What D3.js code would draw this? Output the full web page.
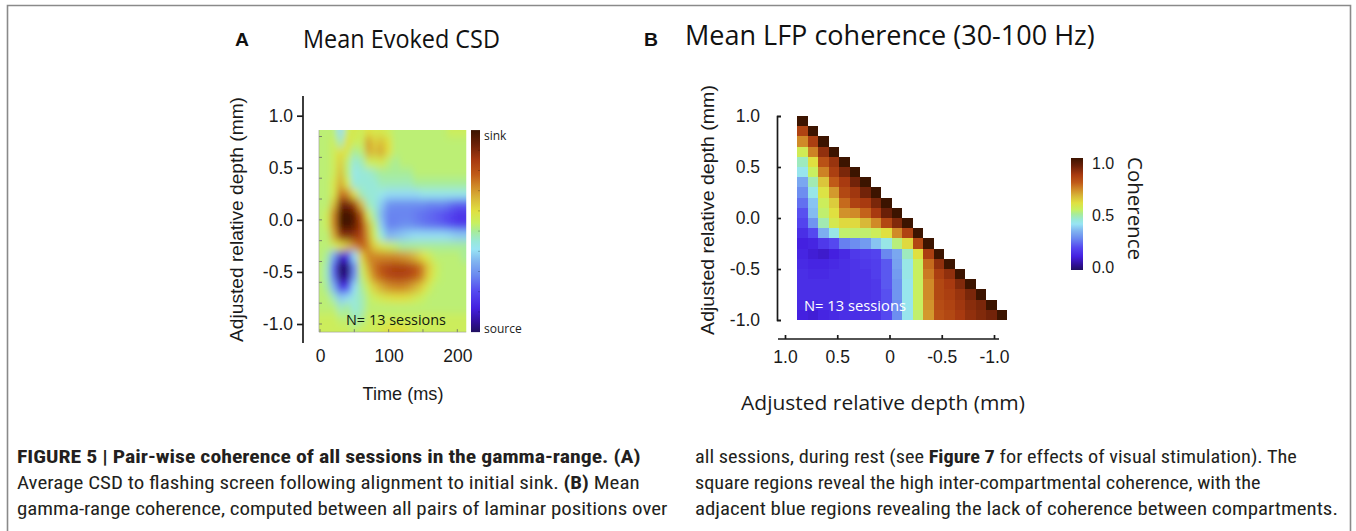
<!DOCTYPE html>
<html><head><meta charset="utf-8">
<script src="https://cdn.jsdelivr.net/npm/d3@7"></script>
<style>body{margin:0;background:#fff}svg{display:block}</style>
</head><body>
<svg id="fig" width="1356" height="531"></svg>
<script>
// ---------------- DATA ----------------
// Panel A: mean evoked CSD (sink > 0, source < 0), rows = depth (mm), cols = time (ms)
const csdTimes = [0,10,20,30,40,50,60,70,80,90,100,110,120,130,140,150,160,170,180,190,200,210];
const csdDepths = [0.85,0.75,0.65,0.55,0.45,0.35,0.25,0.15,0.05,-0.05,-0.15,-0.25,-0.35,-0.45,-0.55,-0.65,-0.75,-0.85,-0.95,-1.05];
const csdValues = [
 [0.05,0.05,0.05,-0.2,0.1,0.15,0.1,0.2,0.15,0.15,0.1,0.05,0.05,0.05,0.05,0.05,0.05,0.05,0.05,0.1,0.1,0.1],
 [0.05,0.05,0.1,-0.05,0.2,0.1,0.1,0.4,0.25,0.3,0.2,0.05,0.05,0.05,0.05,0.05,0.05,0.05,0.05,0.05,0.05,0.05],
 [0.05,0.05,0.1,0.2,0.15,0.0,0.05,0.35,0.3,0.35,0.2,0.05,0.05,0.05,0.05,0.05,0.05,0.05,0.05,0.05,0.05,0.05],
 [0.05,0.05,0.1,0.25,0.05,-0.1,-0.05,0.1,0.1,0.15,0.05,0.0,0.05,0.05,0.05,0.05,0.05,0.05,0.05,0.05,0.05,0.05],
 [0.05,0.05,0.1,0.3,0.05,-0.15,-0.1,-0.1,-0.05,0.0,0.0,0.0,0.0,0.0,0.05,0.05,0.05,0.05,0.05,0.05,0.05,0.05],
 [0.05,0.05,0.15,0.35,0.15,-0.1,-0.1,-0.1,-0.1,-0.05,-0.05,-0.05,-0.05,-0.05,0.0,0.0,0.0,0.0,0.0,0.0,0.0,0.0],
 [0.05,0.05,0.15,0.5,0.45,0.2,-0.05,-0.1,-0.1,-0.15,-0.2,-0.2,-0.2,-0.2,-0.2,-0.15,-0.15,-0.15,-0.15,-0.15,-0.15,-0.15],
 [0.05,0.05,0.3,0.8,0.85,0.7,0.3,-0.05,-0.1,-0.25,-0.4,-0.42,-0.42,-0.42,-0.42,-0.42,-0.45,-0.45,-0.45,-0.5,-0.55,-0.55],
 [0.05,0.1,0.45,0.95,1.0,0.9,0.6,0.15,-0.05,-0.3,-0.45,-0.45,-0.45,-0.45,-0.48,-0.5,-0.52,-0.55,-0.58,-0.62,-0.68,-0.68],
 [0.05,0.1,0.45,0.95,1.0,0.9,0.7,0.35,0.05,-0.25,-0.45,-0.45,-0.42,-0.42,-0.45,-0.48,-0.5,-0.52,-0.55,-0.6,-0.65,-0.65],
 [0.05,0.05,0.35,0.75,0.8,0.75,0.65,0.4,0.1,-0.1,-0.3,-0.28,-0.25,-0.22,-0.2,-0.2,-0.2,-0.2,-0.2,-0.22,-0.25,-0.25],
 [0.05,0.05,0.1,0.2,0.3,0.45,0.55,0.45,0.25,0.15,0.1,0.05,0.0,0.0,0.0,0.0,0.0,0.0,0.0,0.0,0.0,0.0],
 [0.05,0.0,-0.35,-0.8,-0.7,-0.2,0.25,0.45,0.45,0.45,0.45,0.45,0.42,0.38,0.3,0.2,0.12,0.05,0.05,0.05,0.05,0.0],
 [0.05,-0.05,-0.55,-1.0,-0.95,-0.45,0.1,0.35,0.5,0.6,0.65,0.68,0.68,0.65,0.58,0.45,0.25,0.1,0.05,0.05,0.05,0.05],
 [0.05,-0.05,-0.5,-0.95,-0.9,-0.4,0.05,0.25,0.45,0.55,0.62,0.65,0.65,0.62,0.55,0.42,0.22,0.08,0.05,0.05,0.05,0.05],
 [0.05,0.0,-0.3,-0.7,-0.6,-0.2,0.0,0.1,0.25,0.35,0.42,0.45,0.45,0.4,0.32,0.22,0.1,0.05,0.05,0.05,0.05,0.05],
 [0.05,0.05,-0.05,-0.25,-0.2,-0.1,-0.05,0.05,0.1,0.15,0.18,0.2,0.2,0.18,0.12,0.08,0.05,0.05,0.05,0.05,0.05,0.05],
 [0.05,0.05,0.05,-0.05,0.0,-0.1,-0.05,0.05,0.05,0.05,0.05,0.05,0.05,0.05,0.05,0.05,0.05,0.05,0.05,0.05,0.05,0.05],
 [0.1,0.1,0.1,0.05,0.05,-0.05,0.0,0.1,0.1,0.1,0.1,0.1,0.1,0.1,0.1,0.1,0.1,0.1,0.1,0.1,0.1,0.1],
 [0.1,0.1,0.1,0.1,0.1,0.05,0.1,0.1,0.1,0.15,0.2,0.2,0.2,0.15,0.1,0.1,0.1,0.1,0.1,0.1,0.1,0.1]
];
const csdYTicks = [1.0,0.5,0.0,-0.5,-1.0];
const csdXTicks = [0,100,200];
const csdInnerDepthTicks = [0.8,0.6,0.4,0.2,0.0,-0.2,-0.4,-0.6,-0.8,-1.0];
const csdInnerTimeTicks = [0,50,100,150,200];
const csdBarLabels = ["sink","source"];

// Panel B: mean gamma coherence, lower triangle, rows top->bottom, cols left->right
const cohChannels = d3.range(20);
const cohValues = [
 [1],
 [0.83,1],
 [0.72,0.84,1],
 [0.56,0.73,0.88,1],
 [0.47,0.6,0.8,0.87,1],
 [0.42,0.54,0.73,0.84,0.91,1],
 [0.33,0.48,0.64,0.78,0.85,0.92,1],
 [0.29,0.43,0.59,0.7,0.82,0.86,0.92,1],
 [0.25,0.37,0.55,0.63,0.76,0.83,0.85,0.91,1],
 [0.21,0.36,0.53,0.6,0.71,0.72,0.77,0.85,0.93,1],
 [0.19,0.3,0.48,0.57,0.61,0.61,0.66,0.72,0.82,0.9,1],
 [0.15,0.2,0.34,0.43,0.53,0.53,0.53,0.55,0.6,0.72,0.83,1],
 [0.12,0.13,0.17,0.2,0.27,0.29,0.31,0.37,0.43,0.52,0.61,0.82,1],
 [0.13,0.11,0.1,0.12,0.14,0.17,0.18,0.19,0.28,0.33,0.47,0.6,0.84,1],
 [0.14,0.13,0.13,0.14,0.15,0.16,0.17,0.18,0.22,0.32,0.43,0.54,0.76,0.88,1],
 [0.15,0.14,0.14,0.15,0.15,0.16,0.16,0.18,0.22,0.31,0.43,0.54,0.74,0.84,0.88,1],
 [0.15,0.15,0.15,0.15,0.15,0.16,0.16,0.17,0.22,0.3,0.42,0.54,0.72,0.82,0.85,0.9,1],
 [0.15,0.15,0.15,0.15,0.15,0.16,0.16,0.17,0.21,0.3,0.42,0.54,0.72,0.82,0.84,0.87,0.91,1],
 [0.14,0.14,0.15,0.15,0.15,0.16,0.16,0.16,0.21,0.29,0.42,0.54,0.71,0.81,0.83,0.86,0.89,0.91,1],
 [0.12,0.11,0.13,0.14,0.15,0.15,0.16,0.16,0.2,0.29,0.42,0.53,0.7,0.8,0.82,0.85,0.88,0.9,0.92,1]
];
const cohYTicks = [1.0,0.5,0.0,-0.5,-1.0];
const cohXTicks = [1.0,0.5,0.0,-0.5,-1.0];
const cohXTickLabels = ["1.0","0.5","0","-0.5","-1.0"];
const cohBarTicks = [1.0,0.5,0.0];

// ---------------- STYLE ----------------
const cmapStops = [0,0.05,0.12,0.2,0.28,0.35,0.41,0.45,0.5,0.54,0.6,0.66,0.72,0.78,0.85,0.93,1];
const cmapColors = ['#201060','#30109a','#4420e0','#5548f0','#6a88f0','#80b4f0','#98e4f4','#98e8d8','#a8ec98','#c8f060','#e0e040','#d8b838','#d08a28','#c05a18','#a83a10','#6a2008','#3c1400'];
const cmap = d3.scaleLinear().domain(cmapStops).range(cmapColors).interpolate(d3.interpolateRgb).clamp(true);
const HELV = "'Liberation Sans', Arial, Helvetica, sans-serif";
const CAL = "'Open Sans', 'Noto Sans', sans-serif";
const COND = "'Liberation Sans Narrow', 'Roboto Condensed', Roboto, 'Liberation Sans', sans-serif";

const svg = d3.select('#fig');
const defs = svg.append('defs');

function label(g, o){
  const t = g.append('text')
    .attr('font-family', o.family || HELV)
    .attr('font-size', o.size)
    .attr('font-weight', o.weight || 'normal')
    .attr('fill', o.fill || '#111')
    .attr('text-anchor', o.anchor || 'start');
  const parts = Array.isArray(o.text) ? o.text : [[o.text, false]];
  parts.forEach(([s,b]) => { const ts = t.append('tspan').text(s); if (b) ts.attr('font-weight','bold'); });
  let tr = `translate(${o.x},${o.y})` + (o.rot ? ` rotate(${o.rot})` : '');
  if (o.width) { const L = t.node().getComputedTextLength(); if (L > 0) tr += ` scale(${o.width / L},1)`; }
  t.attr('transform', tr);
  return t;
}

// frame
svg.append('path').attr('d','M7.5,531 V5.5 H1350.5 V531').attr('fill','none')
  .attr('stroke','#8a8a8a').attr('stroke-width',1.6);

// ================= PANEL A =================
const gA = svg.append('g');
const xA = d3.scaleLinear().domain([0,200]).range([320,457.3]);
const yA = d3.scaleLinear().domain([1,-1]).range([115.7,324]);
const hmA = {x0: xA(-1.5), x1: xA(213), y0: yA(0.862), y1: yA(-1.078)};

defs.append('clipPath').attr('id','clipA').append('rect')
  .attr('x',hmA.x0).attr('y',hmA.y0).attr('width',hmA.x1-hmA.x0).attr('height',hmA.y1-hmA.y0);
const fA = defs.append('filter').attr('id','blurA').attr('filterUnits','userSpaceOnUse')
  .attr('x',hmA.x0-40).attr('y',hmA.y0-40).attr('width',hmA.x1-hmA.x0+80).attr('height',hmA.y1-hmA.y0+80);
fA.append('feGaussianBlur').attr('stdDeviation','3.1 4.0');

const clipG = gA.append('g').attr('clip-path','url(#clipA)');
clipG.append('rect').attr('x',hmA.x0).attr('y',hmA.y0).attr('width',hmA.x1-hmA.x0).attr('height',hmA.y1-hmA.y0)
  .attr('fill', cmap(0.525));
const blurG = clipG.append('g').attr('filter','url(#blurA)');
const nT = csdTimes.length, nD = csdDepths.length;
const cellsA = [];
csdDepths.forEach((d,i) => csdTimes.forEach((t,j) => cellsA.push({t,d,v:csdValues[i][j],i,j})));
blurG.selectAll('rect').data(cellsA).join('rect')
  .attr('x', c => xA(c.t-5) - (c.j===0 ? 20 : 0))
  .attr('width', c => xA(c.t+5) - xA(c.t-5) + 0.6 + (c.j===0 ? 20 : 0) + (c.j===nT-1 ? 20 : 0))
  .attr('y', c => yA(c.d+0.05) - (c.i===0 ? 20 : 0))
  .attr('height', c => yA(c.d-0.05) - yA(c.d+0.05) + 0.6 + (c.i===0 ? 20 : 0) + (c.i===nD-1 ? 20 : 0))
  .attr('fill', c => cmap((c.v+1)/2))
  .attr('shape-rendering','crispEdges');

// inner ticks of heatmap A
gA.append('g').selectAll('line').data(csdInnerDepthTicks).join('line')
  .attr('x1',hmA.x0).attr('x2',hmA.x0+3).attr('y1',d=>yA(d)).attr('y2',d=>yA(d))
  .attr('stroke','#666').attr('stroke-width',0.8);
gA.append('g').selectAll('line').data(csdInnerTimeTicks).join('line')
  .attr('x1',d=>xA(d)).attr('x2',d=>xA(d)).attr('y1',hmA.y1).attr('y2',hmA.y1-3)
  .attr('stroke','#666').attr('stroke-width',0.8);
gA.append('line').attr('x1',hmA.x0).attr('x2',hmA.x0).attr('y1',hmA.y0).attr('y2',hmA.y1).attr('stroke','#999').attr('stroke-width',0.6);
gA.append('line').attr('x1',hmA.x0).attr('x2',hmA.x1).attr('y1',hmA.y1).attr('y2',hmA.y1).attr('stroke','#999').attr('stroke-width',0.6);

// y axis A
gA.append('line').attr('x1',303).attr('x2',303).attr('y1',96).attr('y2',343).attr('stroke','#1a1a1a').attr('stroke-width',1.7);
const axA = gA.append('g').attr('transform','translate(303,0)')
  .call(d3.axisLeft(yA).tickValues(csdYTicks).tickSize(6).tickPadding(4).tickFormat(d => d.toFixed(1)));
axA.select('.domain').remove();
axA.selectAll('line').attr('stroke','#1a1a1a').attr('stroke-width',1.7);
axA.selectAll('text').attr('font-family',HELV).attr('font-size',17.5).attr('fill','#1a1a1a');

// x axis A (labels only)
const axAx = gA.append('g').attr('transform','translate(0,345)')
  .call(d3.axisBottom(xA).tickValues(csdXTicks).tickSize(0).tickPadding(5).tickFormat(d3.format('d')));
axAx.select('.domain').remove();
axAx.selectAll('text').attr('font-family',HELV).attr('font-size',17.5).attr('fill','#1a1a1a');

// colorbar A
const gradA = defs.append('linearGradient').attr('id','gradA').attr('x1',0).attr('y1',1).attr('x2',0).attr('y2',0);
cmapStops.forEach((s,k) => gradA.append('stop').attr('offset',s).attr('stop-color',cmapColors[k]));
gA.append('rect').attr('x',471).attr('y',hmA.y0).attr('width',9).attr('height',hmA.y1-hmA.y0).attr('fill','url(#gradA)');
const cbA = d3.scaleLinear().domain([0,1]).range([hmA.y1,hmA.y0]);
gA.append('g').selectAll('line').data(d3.range(1,10).map(k=>k/10)).join('line')
  .attr('x1',478).attr('x2',480).attr('y1',d=>cbA(d)).attr('y2',d=>cbA(d))
  .attr('stroke','rgba(0,0,0,0.3)').attr('stroke-width',0.8);
label(gA,{x:484,y:140,text:csdBarLabels[0],family:CAL,size:12,fill:'#222'});
label(gA,{x:484,y:333,text:csdBarLabels[1],family:CAL,size:12,fill:'#222'});

label(gA,{x:346,y:325,text:'N= 13 sessions',family:CAL,size:15,fill:'#132010',width:100});

// titles & axis titles A
label(gA,{x:235,y:46,text:'A',family:HELV,size:18,weight:'bold',fill:'#111',width:14});
label(gA,{x:303,y:48,text:'Mean Evoked CSD',family:CAL,size:25,fill:'#111',width:197});
label(gA,{x:243,y:219.5,rot:-90,anchor:'middle',text:'Adjusted relative depth (mm)',family:HELV,size:19,fill:'#1a1a1a',width:245});
label(gA,{x:403,y:400,anchor:'middle',text:'Time (ms)',family:HELV,size:18,fill:'#1a1a1a',width:81});

// ================= PANEL B =================
const gB = svg.append('g');
const bandX = d3.scaleBand().domain(cohChannels).range([797,1007]);
const bandY = d3.scaleBand().domain(cohChannels).range([116,320]);
const cellsB = [];
cohValues.forEach((row,i) => row.forEach((v,j) => cellsB.push({i,j,v})));
gB.append('g').selectAll('rect').data(cellsB).join('rect')
  .attr('x', c => bandX(c.j)).attr('y', c => bandY(c.i))
  .attr('width', bandX.bandwidth()+0.4).attr('height', bandY.bandwidth()+0.4)
  .attr('fill', c => cmap(c.v)).attr('shape-rendering','crispEdges');

label(gB,{x:804,y:311,text:'N= 13 sessions',family:CAL,size:15,fill:'#ffffff',width:102});

const yB = d3.scaleLinear().domain([1,-1]).range([116,320]);
const xB = d3.scaleLinear().domain([1,-1]).range([785,994]);
const axB = gB.append('g').attr('transform','translate(777,0)')
  .call(d3.axisLeft(yB).tickValues(cohYTicks).tickSize(-4).tickPadding(17).tickFormat(d => d.toFixed(1)));
axB.select('.domain').attr('stroke','#1a1a1a').attr('stroke-width',1.7);
axB.selectAll('line').attr('stroke','#1a1a1a').attr('stroke-width',1.7);
axB.selectAll('text').attr('font-family',HELV).attr('font-size',17.5).attr('fill','#1a1a1a');

gB.append('line').attr('x1',778).attr('x2',999).attr('y1',339).attr('y2',339).attr('stroke','#1a1a1a').attr('stroke-width',1.7);
const axBx = gB.append('g').attr('transform','translate(0,339)')
  .call(d3.axisBottom(xB).tickValues(cohXTicks).tickSize(-4).tickPadding(12).tickFormat((d,k) => cohXTickLabels[k]));
axBx.select('.domain').remove();
axBx.selectAll('line').attr('stroke','#1a1a1a').attr('stroke-width',1.7);
axBx.selectAll('text').attr('font-family',HELV).attr('font-size',17.5).attr('fill','#1a1a1a');

// colorbar B
const gradB = defs.append('linearGradient').attr('id','gradB').attr('x1',0).attr('y1',1).attr('x2',0).attr('y2',0);
cmapStops.forEach((s,k) => gradB.append('stop').attr('offset',s).attr('stop-color',cmapColors[k]));
gB.append('rect').attr('x',1071).attr('y',158).attr('width',12).attr('height',112).attr('fill','url(#gradB)');
const cbB = d3.scaleLinear().domain([0,1]).range([267,163]);
const axCb = gB.append('g').attr('transform','translate(1083,0)')
  .call(d3.axisRight(cbB).tickValues(cohBarTicks).tickSize(0).tickPadding(9).tickFormat(d => d.toFixed(1)));
axCb.select('.domain').remove();
axCb.selectAll('text').attr('font-family',HELV).attr('font-size',16).attr('fill','#1a1a1a');
label(gB,{x:1128,y:208.5,rot:90,anchor:'middle',text:'Coherence',family:CAL,size:20,fill:'#1a1a1a',width:103});

// titles B
label(gB,{x:644,y:46,text:'B',family:HELV,size:18,weight:'bold',fill:'#111',width:14});
label(gB,{x:685,y:45,text:'Mean LFP coherence (30-100 Hz)',family:CAL,size:27,fill:'#111',width:410});
label(gB,{x:714,y:210,rot:-90,anchor:'middle',text:'Adjusted relative depth (mm)',family:HELV,size:19,fill:'#1a1a1a',width:250});
label(gB,{x:883,y:410,anchor:'middle',text:'Adjusted relative depth (mm)',family:CAL,size:20,fill:'#1a1a1a',width:284});

// ================= CAPTION =================
const gC = svg.append('g');
const capFill = '#231f20';
label(gC,{x:17,y:463,text:[['FIGURE 5 | Pair-wise coherence of all sessions in the gamma-range. (A)',true]],family:COND,size:18,fill:capFill,width:624});
label(gC,{x:17,y:489,text:[['Average CSD to flashing screen following alignment to initial sink. ',false],['(B)',true],[' Mean',false]],family:COND,size:18,fill:capFill,width:623});
label(gC,{x:17,y:515,text:'gamma-range coherence, computed between all pairs of laminar positions over',family:COND,size:18,fill:capFill,width:651});
label(gC,{x:695,y:463,text:[['all sessions, during rest (see ',false],['Figure 7',true],[' for effects of visual stimulation). The',false]],family:COND,size:18,fill:capFill,width:602});
label(gC,{x:695,y:489,text:'square regions reveal the high inter-compartmental coherence, with the',family:COND,size:18,fill:capFill,width:566});
label(gC,{x:695,y:515,text:'adjacent blue regions revealing the lack of coherence between compartments.',family:COND,size:18,fill:capFill,width:643});
</script>
</body></html>
